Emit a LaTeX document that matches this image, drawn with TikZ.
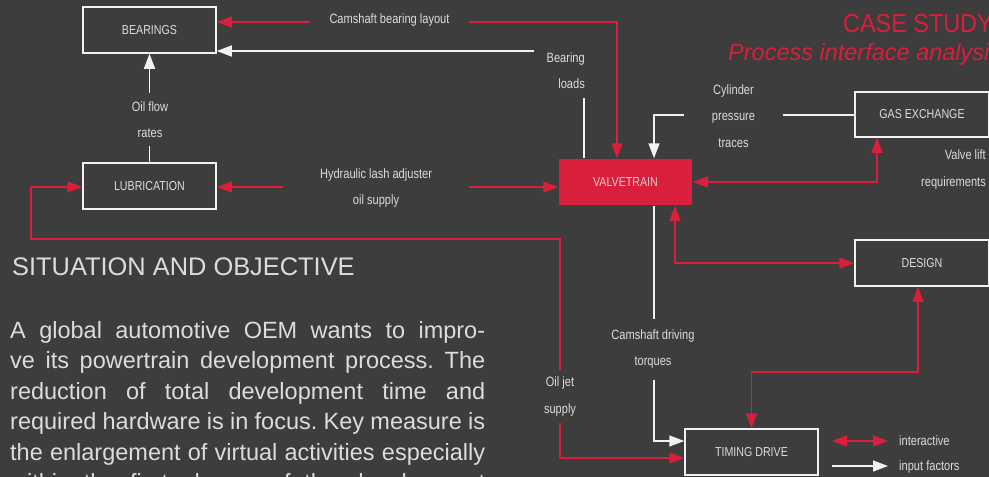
\documentclass[tikz,border=0pt]{standalone}
\usepackage{fontspec}
\setmainfont{Liberation Sans}
\newfontfamily\condfont{Liberation Sans}[FakeStretch=0.82]
\newfontfamily\titlefont{Liberation Sans}[FakeStretch=0.9]
\usetikzlibrary{arrows.meta,calc}
\definecolor{bg}{HTML}{3D3D3D}
\definecolor{accent}{HTML}{D91F3B}
\definecolor{wline}{HTML}{F2F2F2}
\definecolor{txt}{HTML}{DCDCDC}
\definecolor{vtxt}{HTML}{F4C6CD}
\newcommand\jline[1]{\hbox to 475pt{\frenchspacing\spaceskip=0.278em plus 1fil minus 0.08em\relax #1}}
\begin{document}
\begin{tikzpicture}[x=1pt,y=-1pt,
  >={Triangle[length=15pt,width=11pt]},
  box/.style={draw=wline,line width=1.5pt,minimum width=133pt,minimum height=46pt,inner sep=0pt,text=txt,font=\condfont\fontsize{13}{15}\selectfont},
  inter/.style={draw=accent,line width=1.5pt,<->},
  inp/.style={draw=wline,line width=1.5pt,->},
  lbl/.style={fill=bg,text=txt,inner sep=0pt,align=center,font=\condfont\fontsize{13.5}{26.5}\selectfont},
  legtxt/.style={anchor=west,inner sep=0pt,text=txt,font=\condfont\fontsize{13.5}{16}\selectfont},
  body/.style={anchor=base west,inner sep=0pt,text=txt,font=\fontsize{23.5}{30.5}\selectfont},
]
\useasboundingbox (0,0) rectangle (989,477);
\clip (0,0) rectangle (989,477);
\fill[bg] (0,0) rectangle (989,477);

% boxes
\node[box] (bearings) at (149.5,30) {BEARINGS};
\node[box] (lubrication) at (149.5,186) {LUBRICATION};
\node[box,draw=none,fill=accent,text=vtxt] (valvetrain) at (625.5,182) {VALVETRAIN};
\node[box,minimum width=134pt,minimum height=45pt] (gasexchange) at (922,114.5) {GAS EXCHANGE};
\node[box,minimum width=134pt] (design) at (922,263) {DESIGN};
\node[box] (timing) at (751.5,452) {TIMING DRIVE};

% connectors
\draw[inter] (valvetrain.north -| 617,0) |- (bearings.east |- 0,22);
\draw[inp] (valvetrain.north -| 584,0) |- (bearings.east |- 0,51);
\draw[inp] (lubrication.north) -- (bearings.south);
\draw[inter] (lubrication.east |- 0,187) -- (valvetrain.west |- 0,187);
\draw[inter] (lubrication.west |- 0,187) -| (31,239) -| (560,458) -- (timing.west |- 0,458);
\draw[inp] (valvetrain.south -| 654,0) |- (timing.west |- 0,441);
\draw[inter] (valvetrain.south -| 675,0) |- (design.west);
\draw[inter] (valvetrain.east) -| (gasexchange.south -| 877,0);
\draw[inp] (gasexchange.west |- 0,115) -| (valvetrain.north -| 654,0);
\draw[inter] (design.south -| 918,0) |- (timing.north |- 0,372) -- (timing.north);

% connector labels
\node[lbl,minimum width=159pt,minimum height=14pt] (l1) at (389.5,20) {Camshaft bearing layout};
\node[lbl,align=right,inner xsep=13pt,minimum height=54pt,anchor=east] (l2) at (598,70.5) {Bearing\\loads};
\node[lbl,minimum width=30pt,minimum height=53pt] (l3) at (150,119.5) {Oil flow\\rates};
\node[lbl,minimum width=186pt] (l4) at (376,188) {Hydraulic lash adjuster\\oil supply};
\node[lbl,minimum width=20pt,minimum height=53pt] (l5) at (560,396.5) {Oil jet\\supply};
\node[lbl,minimum height=61pt] (l6) at (653,349) {Camshaft driving\\torques};
\node[lbl,minimum width=99pt] (l9) at (733.5,116) {Cylinder\\pressure\\traces};
\node[lbl,fill=none,align=right,anchor=east] (l8) at (986,169.5) {Valve lift\\requirements};

% legend
\coordinate (li1) at (832,441);
\coordinate (li2) at (888,441);
\draw[inter] (li1) -- (li2);
\node[legtxt] (linter) at (899,441) {interactive};
\coordinate (lf1) at (832,466);
\coordinate (lf2) at (888,466);
\draw[inp] (lf1) -- (lf2);
\node[legtxt] (linput) at (899,467) {input factors};

% titles
\node[anchor=base west,inner sep=0pt,text=accent,font=\titlefont\fontsize{26}{30}\selectfont] (title) at (843,32) {CASE STUDY};
\node[anchor=base west,inner sep=0pt,text=accent,font=\fontsize{23.5}{28}\selectfont\itshape] (subtitle) at (728,60) {Process interface analysis};

% text block
\node[anchor=base west,inner sep=0pt,text=txt,font=\fontsize{25.4}{30}\selectfont] (heading) at (12,275) {SITUATION AND OBJECTIVE};
\node[body] (b1) at (10,338.3) {\jline{A global automotive OEM wants to impro-}};
\node[body] (b2) at (10,368.8) {\jline{ve its powertrain development process. The}};
\node[body] (b3) at (10,399.3) {\jline{reduction of total development time and}};
\node[body] (b4) at (10,429.8) {\jline{required hardware is in focus. Key measure is}};
\node[body] (b5) at (10,460.3) {\jline{the enlargement of virtual activities especially}};
\node[body] (b6) at (10,490.8) {\jline{within the first phases of the development}};
\end{tikzpicture}
\end{document}
